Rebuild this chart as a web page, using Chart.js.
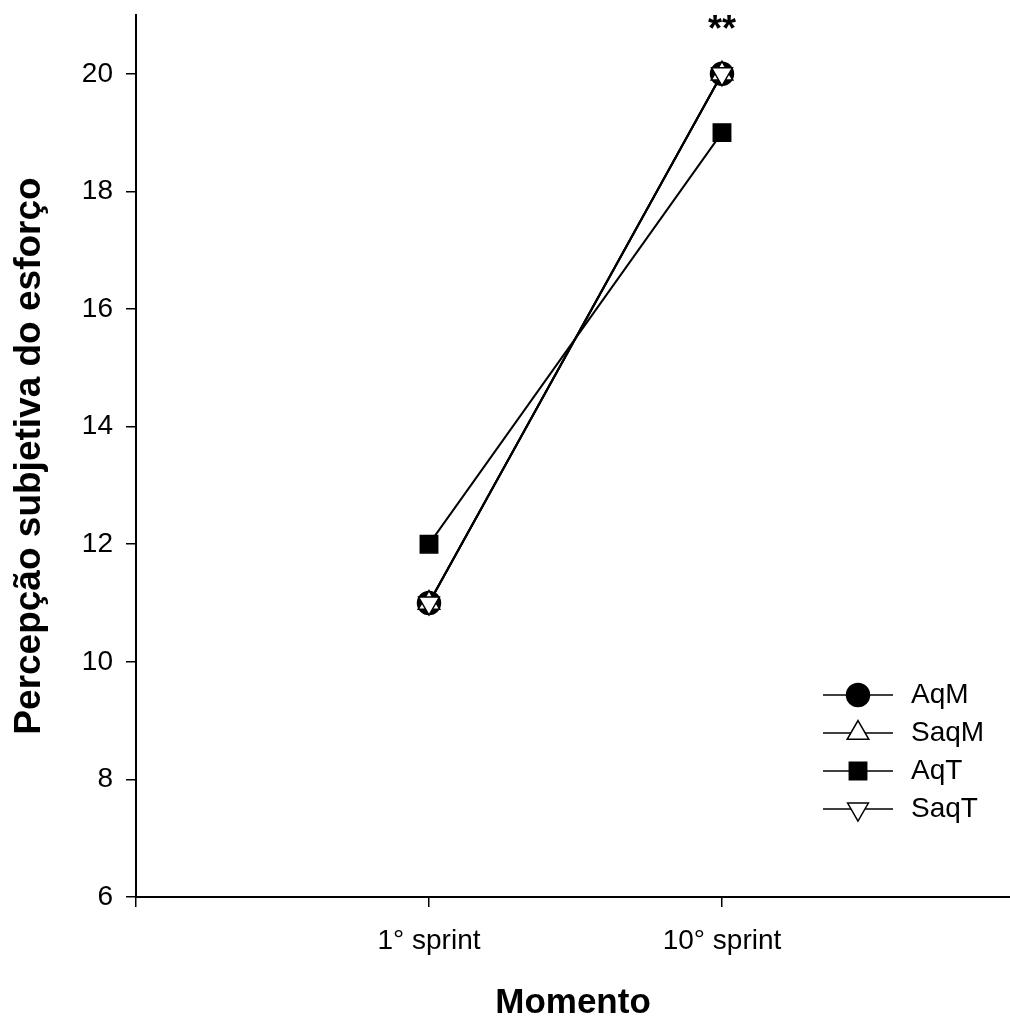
<!DOCTYPE html>
<html>
<head>
<meta charset="utf-8">
<script src="https://cdn.jsdelivr.net/npm/chart.js@4.4.1/dist/chart.umd.min.js"></script>
<style>
  body { margin: 0; background: #fff; }
</style>
</head>
<body>
<canvas id="chart" width="1010" height="1021"></canvas>
<script>
// values
const categories = ['1° sprint', '10° sprint'];
const seriesNames = ['AqM', 'SaqM', 'AqT', 'SaqT'];
const aqM = [11, 20];
const saqM = [11, 20];
const aqT = [12, 19];
const saqT = [11, 20];
const yTicks = [6, 8, 10, 12, 14, 16, 18, 20];
const starLabel = '**';

const FONT = '"Liberation Sans", Arial, sans-serif';
Chart.defaults.font.family = FONT;
Chart.defaults.color = '#000';

// marker look per series
const markers = [
    { pointStyle: 'circle', radius: 11.5, fill: '#000', rotation: 0 },
    { pointStyle: 'triangle', radius: 12.5, fill: '#fff', rotation: 0 },
    { pointStyle: 'rect', radius: 12.3, fill: '#000', rotation: 0 },
    { pointStyle: 'triangle', radius: 12, fill: '#fff', rotation: 180 }
];

function toPoints(values) {
    return values.map((v, i) => ({ x: i + 1, y: v }));
}

const allSeries = [aqM, saqM, aqT, saqT];
const datasets = allSeries.map((values, i) => ({
    label: seriesNames[i],
    data: toPoints(values),
    borderColor: '#000',
    borderWidth: 2,
    pointStyle: markers[i].pointStyle,
    pointRadius: markers[i].radius,
    pointHoverRadius: markers[i].radius,
    pointRotation: markers[i].rotation,
    pointBackgroundColor: markers[i].fill,
    pointBorderColor: '#000',
    pointBorderWidth: 1.5,
    order: allSeries.length - i,
    clip: false
}));

// legend with line through the marker, drawn by hand
const lineLegend = {
    id: 'lineLegend',
    afterDraw(chart) {
        const ctx = chart.ctx;
        ctx.save();
        seriesNames.forEach((name, i) => {
            const y = 695 + i * 38;
            ctx.strokeStyle = '#000';
            ctx.lineWidth = 1.5;
            ctx.beginPath();
            ctx.moveTo(823, y);
            ctx.lineTo(893, y);
            ctx.stroke();
            ctx.fillStyle = markers[i].fill;
            ctx.strokeStyle = '#000';
            Chart.helpers.drawPoint(ctx, {
                pointStyle: markers[i].pointStyle,
                radius: markers[i].radius,
                rotation: markers[i].rotation,
                borderWidth: 1.5
            }, 858, y);
            ctx.fillStyle = '#000';
            ctx.font = '28px ' + FONT;
            ctx.textAlign = 'left';
            ctx.textBaseline = 'middle';
            ctx.fillText(name, 911, y);
        });
        ctx.restore();
    }
};

// significance mark above 10° sprint
const starMark = {
    id: 'starMark',
    afterDraw(chart) {
        const { ctx, scales } = chart;
        ctx.save();
        ctx.fillStyle = '#000';
        ctx.font = 'bold 36px ' + FONT;
        ctx.textAlign = 'center';
        ctx.textBaseline = 'alphabetic';
        ctx.fillText(starLabel, scales.x.getPixelForValue(2), scales.y.getPixelForValue(Math.max(...saqM)) - 33);
        ctx.restore();
    }
};

new Chart(document.getElementById('chart'), {
    type: 'line',
    data: { datasets },
    options: {
        responsive: false,
        animation: false,
        layout: { autoPadding: false, padding: { top: 15, right: 0, bottom: 0, left: 0 } },
        plugins: {
            legend: { display: false },
            tooltip: { enabled: false }
        },
        scales: {
            x: {
                type: 'linear',
                min: 0,
                max: 2.983,
                afterBuildTicks: (scale) => {
                    scale.ticks = [0, 1, 2].map(v => ({ value: v }));
                },
                afterFit: (scale) => {
                    scale.height = 124;
                    scale.paddingLeft = 0;
                    scale.paddingRight = 0;
                },
                grid: { drawOnChartArea: false, tickLength: 10, color: '#000', lineWidth: 1.5 },
                border: { color: '#000', width: 2 },
                ticks: {
                    autoSkip: false,
                    maxRotation: 0,
                    padding: 17,
                    font: { size: 28 },
                    callback: (v) => categories[v - 1] || ''
                },
                title: {
                    display: true,
                    text: 'Momento',
                    font: { size: 35, weight: 'bold', lineHeight: 1 },
                    padding: { top: 0, bottom: 0 }
                }
            },
            y: {
                min: 6,
                max: 21,
                afterBuildTicks: (scale) => {
                    scale.ticks = yTicks.map(v => ({ value: v }));
                },
                afterFit: (scale) => {
                    scale.width = 136;
                    scale.paddingTop = 0;
                    scale.paddingBottom = 0;
                },
                grid: { drawOnChartArea: false, tickLength: 10, color: '#000', lineWidth: 1.5 },
                border: { color: '#000', width: 2 },
                ticks: { padding: 13, font: { size: 28 } },
                title: {
                    display: true,
                    text: 'Percepção subjetiva do esforço',
                    font: { size: 37, weight: 'bold', lineHeight: 1 },
                    padding: { top: 11, bottom: 0 }
                }
            }
        }
    },
    plugins: [lineLegend, starMark]
});
</script>
</body>
</html>
